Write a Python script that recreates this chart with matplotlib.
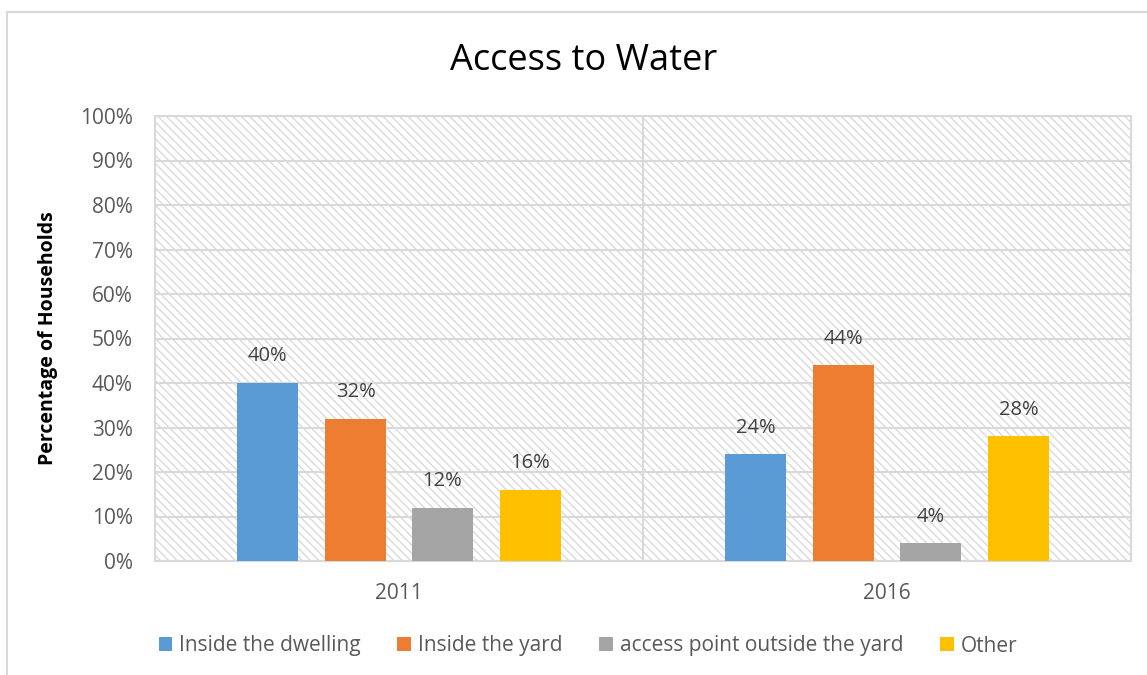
import matplotlib
matplotlib.use("Agg")
import matplotlib.pyplot as plt
from matplotlib.patches import Rectangle
from matplotlib.lines import Line2D
import numpy as np

years = ["2011", "2016"]
series_names = ["Inside the dwelling", "Inside the yard",
                "access point outside the yard", "Other"]
inside_dwelling = [40, 24]
inside_yard = [32, 44]
outside_yard = [12, 4]
other = [16, 28]
colors = ["#5b9bd5", "#ed7d31", "#a5a5a5", "#ffc000"]

plt.rcParams["font.family"] = ["Open Sans", "DejaVu Sans"]
plt.rcParams["hatch.linewidth"] = 1.0

W, H = 1147, 675
fig = plt.figure(figsize=(W / 100, H / 100), dpi=100)
fig.patch.set_facecolor("white")

# outer chart border (left and top edges)
fig.add_artist(Line2D([7.5 / W, 7.5 / W], [0, 1 - 11.5 / H], color="#d9d9d9", lw=1.5))
fig.add_artist(Line2D([7.5 / W, 1], [1 - 11.5 / H, 1 - 11.5 / H], color="#d9d9d9", lw=1.5))

left, right, top, bottom = 155, 1131, 116, 561
ax = fig.add_axes([left / W, 1 - bottom / H, (right - left) / W, (bottom - top) / H])
ax.set_facecolor("white")

# hatched plot-area background
bg = Rectangle((0, 0), 1, 1, transform=ax.transAxes, facecolor="white",
               edgecolor="#dadada", hatch="\\\\\\\\", linewidth=0, zorder=0)
ax.add_patch(bg)

x = np.arange(len(years))
width = 0.125
offsets = [-0.2695, -0.089, 0.089, 0.2695]
all_series = [inside_dwelling, inside_yard, outside_yard, other]
for vals, off, c, name in zip(all_series, offsets, colors, series_names):
    bars = ax.bar(x + off, vals, width, color=c, label=name, zorder=3)
    for b, v in zip(bars, vals):
        ax.annotate(f"{v}%", (b.get_x() + b.get_width() / 2, v),
                    xytext=(0, 12), textcoords="offset points",
                    ha="center", va="bottom", fontsize=14.5, color="#404040", zorder=4)

ax.set_xlim(-0.5, 1.5)
ax.set_ylim(0, 100)
ax.set_yticks(np.arange(0, 101, 10))
ax.set_yticklabels([f"{v}%" for v in range(0, 101, 10)])
ax.set_xticks(x)
ax.set_xticklabels(years)
ax.yaxis.grid(True, color="#d9d9d9", lw=1.5, zorder=1)
ax.axvline(0.5, color="#d9d9d9", lw=1.5, zorder=1)
ax.set_axisbelow(True)
ax.tick_params(length=0, labelsize=15, labelcolor="#595959")
ax.tick_params(axis="y", pad=16)
ax.tick_params(axis="x", pad=16)
for s in ax.spines.values():
    s.set_color("#d9d9d9")
    s.set_linewidth(1.5)

ax.set_ylabel("Percentage of Households", fontsize=14, fontweight="bold",
              color="black", labelpad=16)

fig.text(584 / W, 1 - 61 / H, "Access to Water", ha="center", va="center",
         fontsize=26, color="black")

fig.legend(loc="center", bbox_to_anchor=(588 / W, 1 - 646 / H), ncol=4,
           frameon=False, fontsize=15, labelcolor="#595959",
           handlelength=0.65, handleheight=0.65, handletextpad=0.35,
           columnspacing=1.75)

fig.savefig("out.png", dpi=100)
